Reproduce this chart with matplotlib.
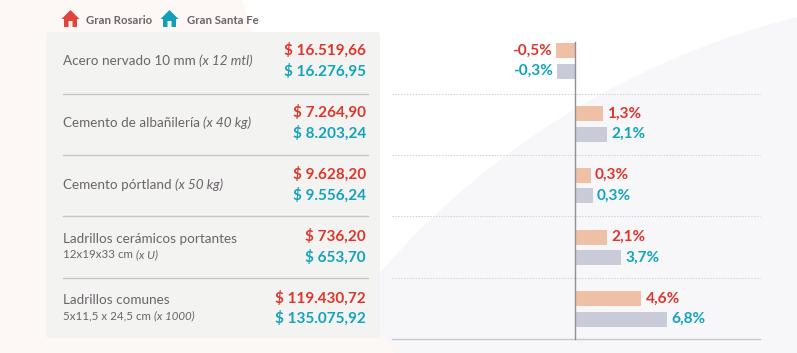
import matplotlib
matplotlib.use("Agg")
import matplotlib.pyplot as plt
from matplotlib.patches import Polygon, FancyBboxPatch, PathPatch
from matplotlib.path import Path

plt.rcParams['font.family'] = ['Lato', 'DejaVu Sans']

W, H = 797, 353
RED = "#e0352b"
TEAL = "#12a3bd"
GREY = "#6b6468"

names = ["Acero nervado 10 mm", "Cemento de albañilería", "Cemento pórtland",
         "Ladrillos cerámicos portantes", "Ladrillos comunes"]
units = ["(x 12 mtl)", "(x 40 kg)", "(x 50 kg)", "(x U)", "(x 1000)"]
sizes = ["", "", "", "12x19x33 cm", "5x11,5 x 24,5 cm"]
price_rosario = ["$ 16.519,66", "$ 7.264,90", "$ 9.628,20", "$ 736,20", "$ 119.430,72"]
price_santafe = ["$ 16.276,95", "$ 8.203,24", "$ 9.556,24", "$ 653,70", "$ 135.075,92"]
label_rosario = ["-0,5%", "1,3%", "0,3%", "2,1%", "4,6%"]
label_santafe = ["-0,3%", "2,1%", "0,3%", "3,7%", "6,8%"]
# bars in the original are not to scale with their labels, so lengths are read separately (px)
bar_rosario = [-19, 27.5, 15.5, 32, 66]
bar_santafe = [-18, 32, 17.5, 46, 92]
row_y = [50.5, 112.5, 174.5, 236.5, 298]
bar_y = [50.5, 113.5, 175, 237, 298.5]
rule_y = [93.5, 154.5, 216, 278]

fig = plt.figure(figsize=(W / 100, H / 100), dpi=100, facecolor="white")
ax = fig.add_axes([0, 0, 1, 1])
ax.set_xlim(0, W)
ax.set_ylim(H, 0)
ax.axis("off")

# pale background shapes
curve = Path([(350, 310), (440, 190), (590, 70), (797, 17), (797, 353), (350, 353), (350, 310)],
             [Path.MOVETO, Path.CURVE4, Path.CURVE4, Path.CURVE4, Path.LINETO, Path.LINETO, Path.CLOSEPOLY])
ax.add_patch(PathPatch(curve, fc="#f7f7fa", ec="none", zorder=0))
ax.add_patch(Polygon([(0, 0), (242, 0), (252, 32), (380, 332), (395, 353), (0, 353)],
                     fc="#fdf8f5", ec="none", zorder=0.5))


# legend houses
def house(x, color):
    pts = [(x - 0.5, 19), (x + 8.5, 10), (x + 17.5, 19), (x + 15, 19), (x + 15, 27),
           (x + 10.5, 27), (x + 10.5, 21), (x + 6.5, 21), (x + 6.5, 27), (x + 2, 27), (x + 2, 19)]
    ax.add_patch(Polygon(pts, fc=color, ec="none", zorder=3))


house(62, "#e0443c")
house(161, "#12a0b8")
ax.text(86, 20.5, "Gran Rosario", fontsize=8.2, fontweight="bold", color=GREY, va="center")
ax.text(187, 20.5, "Gran Santa Fe", fontsize=8.2, fontweight="bold", color=GREY, va="center")

# left panel
ax.add_patch(FancyBboxPatch((46, 32), 334, 306, boxstyle="round,pad=0,rounding_size=3",
                            fc="#f3f3f2", ec="none", zorder=1))

rend = fig.canvas.get_renderer()
for i, y in enumerate(row_y):
    if sizes[i]:
        ax.text(63, y + 2.5, names[i], fontsize=9.75, color=GREY, va="center", zorder=3)
        t = ax.text(63, y + 18, sizes[i] + " ", fontsize=8.25, color=GREY, va="center", zorder=3)
        ax.text(t.get_window_extent(rend).x1, y + 18, units[i], fontsize=8.25, color=GREY,
                style="italic", va="center", zorder=3)
    else:
        t = ax.text(63, y + 10.5, names[i] + " ", fontsize=9.75, color=GREY, va="center", zorder=3)
        ax.text(t.get_window_extent(rend).x1, y + 10.5, units[i], fontsize=9.75, color=GREY,
                style="italic", va="center", zorder=3)
    ax.text(366, y, price_rosario[i], fontsize=11, fontweight="bold", color=RED, ha="right", va="center", zorder=3)
    ax.text(366, y + 20.5, price_santafe[i], fontsize=11, fontweight="bold", color=TEAL, ha="right", va="center", zorder=3)

for y in rule_y:
    ax.plot([63, 368], [y, y], color="#c8c8c8", lw=1, zorder=2)
    ax.plot([392, 760], [y, y], color="#cfcfcf", lw=0.7, ls=(0, (1.5, 1.5)), zorder=2)

# bars
zero = 575.5
for i, y in enumerate(bar_y):
    ax.barh(y, bar_rosario[i], height=15, left=zero, color="#eec0a5", zorder=3)
    ax.barh(y + 20.5, bar_santafe[i], height=15, left=zero, color="#c9ccd8", zorder=3)
    for val, lab, yy, c in [(bar_rosario[i], label_rosario[i], y, RED),
                            (bar_santafe[i], label_santafe[i], y + 20.5, TEAL)]:
        if val < 0:
            ax.text(zero + val - 4.5, yy, lab, fontsize=11.1, fontweight="bold", color=c, ha="right", va="center", zorder=4)
        else:
            ax.text(zero + val + 4, yy, lab, fontsize=11.1, fontweight="bold", color=c, ha="left", va="center", zorder=4)

ax.plot([zero, zero], [42, 339], color="#8f8f96", lw=1, zorder=5)
ax.plot([392, 760], [339, 339], color="#c8c8cc", lw=1, zorder=2)

fig.savefig("out.png", dpi=100)
